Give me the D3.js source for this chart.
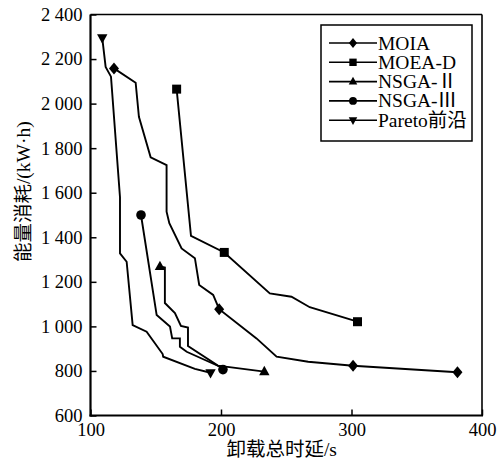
<!DOCTYPE html>
<html>
<head>
<meta charset="utf-8">
<script src="https://cdn.jsdelivr.net/npm/d3@7"></script>
<style>
  html, body { margin: 0; padding: 0; background: #fff; }
  svg { display: block; }
  text { font-family: "Liberation Serif", "Noto Sans CJK SC", serif; fill: #000; }
</style>
</head>
<body>
<div id="chart"></div>
<script>
// Offloading results: total offloading delay (s) vs. energy consumption (kW·h)
const seriesNames = ["MOIA", "MOEA-D", "NSGA-Ⅱ", "NSGA-Ⅲ", "Pareto前沿"];

const moiaDelay  = [118, 134.6, 137.1, 146.1, 158.3, 158.3, 160.4, 169.8, 180, 183.3, 194, 198.6, 227.2, 242.6, 266.8, 301.2, 381.2];
const moiaEnergy = [2158, 2094, 1941, 1759, 1724, 1515, 1463, 1350, 1306, 1186, 1141, 1077, 946, 864, 841, 823, 794];
const moiaMarked = [0, 11, 15, 16];

const moeadDelay  = [166, 177, 202.5, 237.4, 254, 268, 304.6];
const moeadEnergy = [2065, 1406, 1332, 1148, 1133, 1086, 1021];
const moeadMarked = [0, 2, 6];

const nsga2Delay  = [153.2, 157, 157, 164.7, 169.3, 174.7, 174.7, 197.6, 233.2];
const nsga2Energy = [1269, 1264, 1105, 1060, 1002, 995, 912, 824, 797];
const nsga2Marked = [0, 8];

const nsga3Delay  = [138.7, 150.7, 160.9, 162.6, 168.5, 168.5, 173.7, 199.2, 201.5];
const nsga3Energy = [1500, 1051, 999, 946, 946, 909, 886, 819, 806];
const nsga3Marked = [0, 8];

const paretoDelay  = [109, 111.6, 115.7, 122.6, 122.6, 127.7, 132.3, 143, 155.3, 155.7, 180, 192];
const paretoEnergy = [2295, 2165, 2121, 1580, 1328, 1290, 1006, 976, 876, 864, 809, 792];
const paretoMarked = [0, 11];

const xTicks = [100, 200, 300, 400];
const yTicks = [600, 800, 1000, 1200, 1400, 1600, 1800, 2000, 2200, 2400];

const xTitle = "卸载总时延/s";
const yTitle = "能量消耗/(kW·h)";

// marker shapes, centred on the origin
const shapes = {
  diamond: s => `M0,${-6*s}L${5*s},0L0,${6*s}L${-5*s},0Z`,
  square: s => `M${-4.5*s},${-4.5*s}h${9*s}v${9*s}h${-9*s}Z`,
  triUp: s => `M0,${-5.8*s}L${5.2*s},${3.6*s}L${-5.2*s},${3.6*s}Z`,
  triDown: s => `M0,${5.8*s}L${5.2*s},${-3.6*s}L${-5.2*s},${-3.6*s}Z`,
  circle: s => { const r = 4.8*s; return `M${r},0A${r},${r} 0 1,1 ${-r},0A${r},${r} 0 1,1 ${r},0Z`; }
};

const series = [
  { name: seriesNames[0], xs: moiaDelay,   ys: moiaEnergy,   marked: moiaMarked,   shape: "diamond" },
  { name: seriesNames[1], xs: moeadDelay,  ys: moeadEnergy,  marked: moeadMarked,  shape: "square" },
  { name: seriesNames[2], xs: nsga2Delay,  ys: nsga2Energy,  marked: nsga2Marked,  shape: "triUp" },
  { name: seriesNames[3], xs: nsga3Delay,  ys: nsga3Energy,  marked: nsga3Marked,  shape: "circle" },
  { name: seriesNames[4], xs: paretoDelay, ys: paretoEnergy, marked: paretoMarked, shape: "triDown" }
];

const W = 501, H = 458;
const plot = { left: 90.5, right: 482, top: 14.5, bottom: 415.5 };

const svg = d3.select("#chart").append("svg")
  .attr("width", W).attr("height", H)
  .attr("viewBox", `0 0 ${W} ${H}`);

svg.append("rect").attr("width", W).attr("height", H).attr("fill", "#fff");

const x = d3.scaleLinear().domain([100, 400]).range([plot.left, plot.right]);
const y = d3.scaleLinear().domain([600, 2400]).range([plot.bottom, plot.top]);

const fmt = d => d >= 1000 ? d3.format(",")(d).replace(",", " ") : String(d);

// bottom axis, ticks pointing inward
const gx = svg.append("g")
  .attr("transform", `translate(0,${plot.bottom})`)
  .call(d3.axisBottom(x).tickValues(xTicks).tickSizeInner(-6).tickSizeOuter(0).tickPadding(7).tickFormat(d => d));
gx.select(".domain").remove();
gx.selectAll(".tick line").attr("stroke", "#000").attr("stroke-width", 1.5);
gx.selectAll(".tick text").attr("font-size", 18.5).attr("font-family", null);

// left axis, ticks pointing inward
const gy = svg.append("g")
  .attr("transform", `translate(${plot.left},0)`)
  .call(d3.axisLeft(y).tickValues(yTicks).tickSizeInner(-6).tickSizeOuter(0).tickPadding(8).tickFormat(fmt));
gy.select(".domain").remove();
gy.selectAll(".tick line").attr("stroke", "#000").attr("stroke-width", 1.5);
gy.selectAll(".tick text").attr("font-size", 18.5).attr("font-family", null);

// frame: heavier left and bottom, lighter top and right
svg.append("line").attr("x1", plot.left).attr("x2", plot.left).attr("y1", plot.top).attr("y2", plot.bottom + 1)
  .attr("stroke", "#000").attr("stroke-width", 2.2);
svg.append("line").attr("x1", plot.left - 1).attr("x2", plot.right + 1).attr("y1", plot.bottom).attr("y2", plot.bottom)
  .attr("stroke", "#000").attr("stroke-width", 2.2);
svg.append("line").attr("x1", plot.left).attr("x2", plot.right).attr("y1", plot.top).attr("y2", plot.top)
  .attr("stroke", "#000").attr("stroke-width", 1.6);
svg.append("line").attr("x1", plot.right).attr("x2", plot.right).attr("y1", plot.top).attr("y2", plot.bottom)
  .attr("stroke", "#000").attr("stroke-width", 1.6);

// series lines and markers
const line = d3.line().x(d => x(d[0])).y(d => y(d[1]));
series.forEach(s => {
  const pts = s.xs.map((v, i) => [v, s.ys[i]]);
  svg.append("path").datum(pts)
    .attr("d", line)
    .attr("fill", "none").attr("stroke", "#000").attr("stroke-width", 1.9)
    .attr("stroke-linejoin", "miter");
  svg.append("g").selectAll("path")
    .data(s.marked.map(i => pts[i]))
    .join("path")
    .attr("transform", d => `translate(${x(d[0])},${y(d[1])})`)
    .attr("d", shapes[s.shape](1))
    .attr("fill", "#000");
});

// legend
const leg = { x0: 321, y0: 25, x1: 472, y1: 141, rowY: 43, rowStep: 19.3 };
svg.append("rect")
  .attr("x", leg.x0).attr("y", leg.y0)
  .attr("width", leg.x1 - leg.x0).attr("height", leg.y1 - leg.y0)
  .attr("fill", "#fff").attr("stroke", "#000").attr("stroke-width", 1.5);
series.forEach((s, i) => {
  const cy = leg.rowY + i * leg.rowStep;
  svg.append("line").attr("x1", 329).attr("x2", 377).attr("y1", cy).attr("y2", cy)
    .attr("stroke", "#000").attr("stroke-width", 1.6);
  svg.append("path").attr("transform", `translate(353,${cy})`)
    .attr("d", shapes[s.shape](0.82)).attr("fill", "#000");
  svg.append("text").attr("x", 378).attr("y", cy + 6.5)
    .attr("font-size", 19.5).text(s.name);
});

// axis titles
svg.append("text")
  .attr("x", 281.7).attr("y", 449)
  .attr("text-anchor", "middle").attr("dominant-baseline", "central")
  .attr("font-size", 19.5).text(xTitle);
svg.append("text")
  .attr("transform", "translate(23,191.7) rotate(-90)")
  .attr("text-anchor", "middle").attr("dominant-baseline", "central")
  .attr("font-size", 19.5).text(yTitle);
</script>
</body>
</html>
